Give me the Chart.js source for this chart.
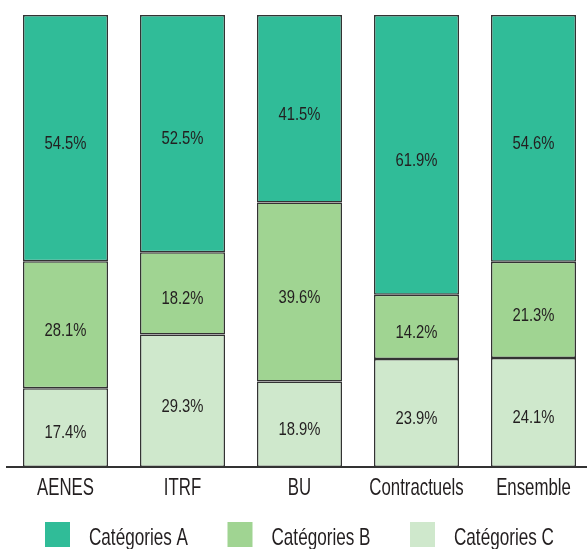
<!DOCTYPE html>
<html>
<head>
<meta charset="utf-8">
<script src="https://cdn.jsdelivr.net/npm/chart.js@4/dist/chart.umd.min.js"></script>
<style>
html,body{margin:0;padding:0;background:#fff;overflow:hidden;width:587px;height:549px;}
#wrap{position:absolute;left:0;top:0;width:592px;height:549px;}
</style>
</head>
<body>
<div id="wrap"><canvas id="c" width="592" height="549"></canvas></div>
<script>
const categories = ["AENES", "ITRF", "BU", "Contractuels", "Ensemble"];
const seriesNames = ["Catégories A", "Catégories B", "Catégories C"];
const catA = [54.5, 52.5, 41.5, 61.9, 54.6];
const catB = [28.1, 18.2, 39.6, 14.2, 21.3];
const catC = [17.4, 29.3, 18.9, 23.9, 24.1];
const colors = ["#30bc98", "#a0d492", "#cfe8cc"];

const FONT = "'Liberation Sans', Arial, sans-serif";
const TEXT = "#231f20";

// draw horizontally condensed text (imitates a condensed typeface)
function condensedText(ctx, text, x, y, size, sx, align) {
  ctx.save();
  ctx.font = size + "px " + FONT;
  ctx.textBaseline = 'alphabetic';
  ctx.textAlign = align;
  ctx.translate(x, y);
  ctx.scale(sx, 1);
  ctx.fillText(text, 0, 0);
  ctx.restore();
}

const valueLabels = {
  id: 'valueLabels',
  afterDatasetsDraw(chart) {
    const ctx = chart.ctx;
    ctx.save();
    ctx.fillStyle = TEXT;
    chart.data.datasets.forEach((ds, i) => {
      const meta = chart.getDatasetMeta(i);
      meta.data.forEach((bar, j) => {
        const y = (bar.y + bar.base) / 2 + 4 + 6.8;
        condensedText(ctx, ds.data[j].toFixed(1) + "%", bar.x, y, 19, 0.78, 'center');
      });
    });
    ctx.restore();
  }
};

const xLabels = {
  id: 'xLabels',
  afterDraw(chart) {
    const ctx = chart.ctx;
    const xs = chart.scales.x;
    ctx.save();
    ctx.fillStyle = TEXT;
    chart.data.labels.forEach((lab, i) => {
      condensedText(ctx, lab, xs.getPixelForTick(i), xs.top + 28, 24, 0.7, 'center');
    });
    ctx.restore();
  }
};

const customLegend = {
  id: 'customLegend',
  afterDraw(chart) {
    const ctx = chart.ctx;
    ctx.save();
    const order = [2, 1, 0];
    const startX = 45, step = 182.5, y = 522, box = 25;
    order.forEach((i, k) => {
      const ds = chart.data.datasets[i];
      const x = startX + k * step;
      ctx.fillStyle = ds.backgroundColor;
      ctx.fillRect(x, y, box, box);
      ctx.fillStyle = TEXT;
      condensedText(ctx, ds.label, x + box + 19, y + 23, 24, 0.713, 'left');
    });
    ctx.restore();
  }
};

new Chart(document.getElementById('c'), {
  type: 'bar',
  data: {
    labels: categories,
    datasets: [
      { label: seriesNames[2], data: catC, backgroundColor: colors[2] },
      { label: seriesNames[1], data: catB, backgroundColor: colors[1] },
      { label: seriesNames[0], data: catA, backgroundColor: colors[0] }
    ].map(d => Object.assign(d, { borderColor: '#333', borderWidth: 1.5, borderSkipped: false, barPercentage: 0.727, categoryPercentage: 1 }))
  },
  options: {
    responsive: false,
    animation: false,
    devicePixelRatio: 1,
    layout: { padding: { top: 15, left: 7, right: 0, bottom: 0 } },
    plugins: { legend: { display: false }, tooltip: { enabled: false } },
    scales: {
      x: {
        stacked: true,
        grid: { display: false, drawTicks: false },
        border: { display: true, color: '#333', width: 2 },
        ticks: { color: 'rgba(0,0,0,0)', font: { family: FONT, size: 17 }, padding: 11 },
        afterFit(scale) { scale.height = 549 - 467; }
      },
      y: {
        stacked: true,
        display: false,
        min: 0,
        max: 100
      }
    }
  },
  plugins: [valueLabels, xLabels, customLegend]
});
</script>
</body>
</html>
